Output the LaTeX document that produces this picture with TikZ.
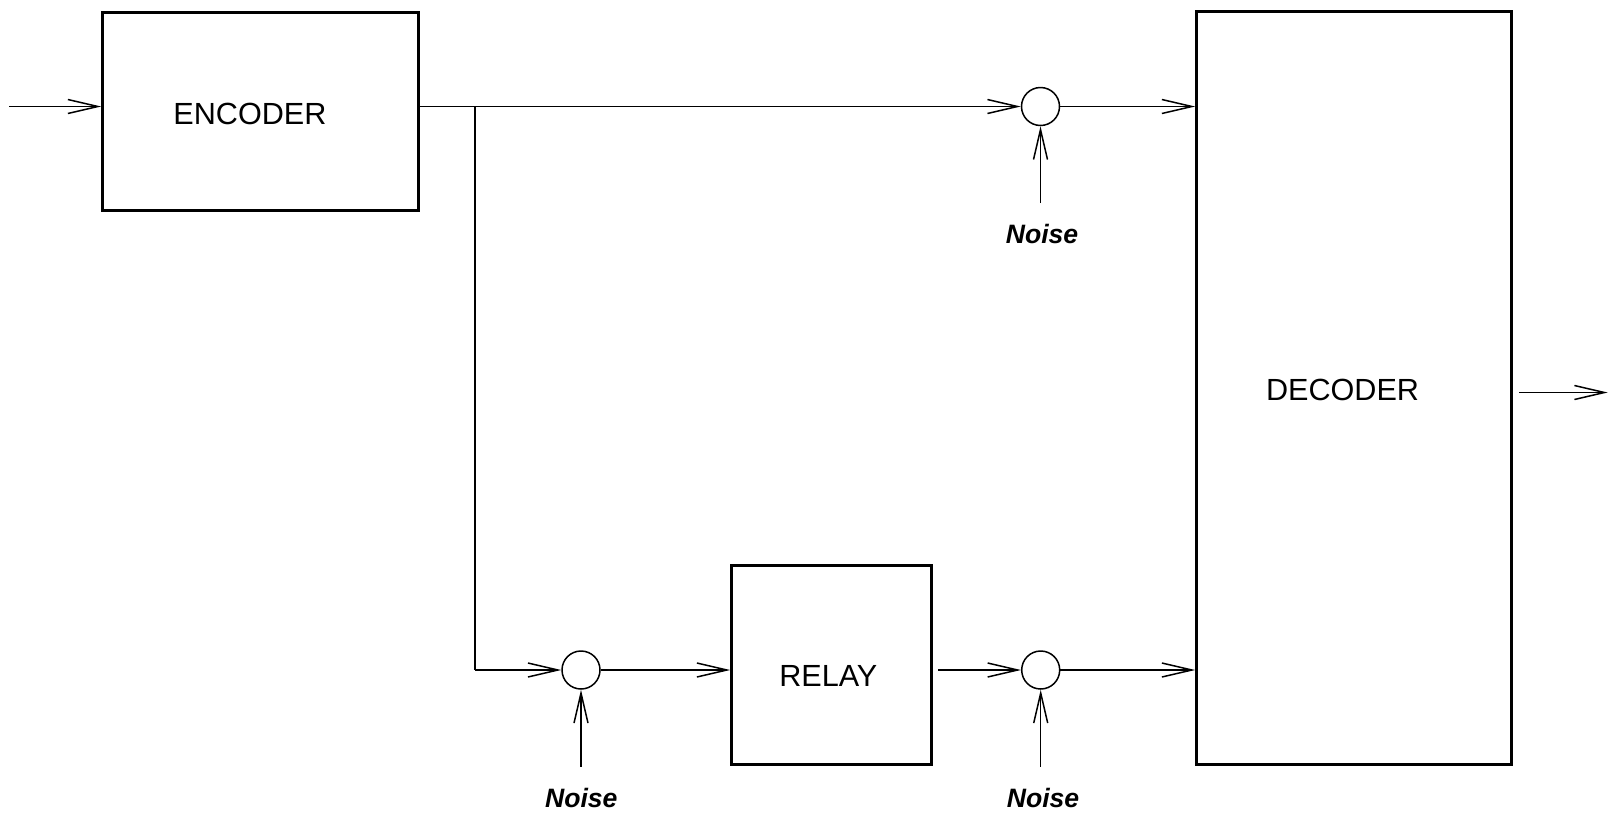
\documentclass[tikz,border=0pt]{standalone}
\usepackage{fontspec}
\newfontfamily\labfont{Liberation Sans}
\usetikzlibrary{arrows.meta}
\begin{document}
\begin{tikzpicture}[x=1pt,y=-1pt,
  blockbox/.style={draw,line width=3pt,inner sep=0pt,rectangle},
  sumnode/.style={draw,circle,line width=1.5pt,minimum size=38pt,inner sep=0pt},
  conn/.style={line width=1.5pt,-{Straight Barb[length=30pt,width=14pt,line width=1.5pt]}},
  plain/.style={line width=1.5pt},
  boxtext/.style={font=\labfont\fontsize{30.6pt}{34pt}\selectfont,inner sep=0pt,anchor=base},
  noisetext/.style={font=\labfont\bfseries\itshape\fontsize{26.6pt}{30pt}\selectfont,inner sep=0pt,anchor=base}]
\useasboundingbox (0,0) rectangle (1608,815);
% blocks
\node[blockbox,minimum width=316pt,minimum height=198pt] (enc) at (260.7,111) {};
\node[blockbox,minimum width=315pt,minimum height=752.5pt] (dec) at (1354.2,387.75) {};
\node[blockbox,minimum width=200pt,minimum height=199.3pt] (rel) at (831.7,665.3) {};
\node[boxtext] (encT) at (250,124) {ENCODER};
\node[boxtext] (decT) at (1342.5,400.7) {DECODER};
\node[boxtext] (relT) at (828.3,686.7) {RELAY};
% summing junctions
\node[sumnode] (s1) at (1040.5,106.5) {};
\node[sumnode] (s2) at (581,670) {};
\node[sumnode] (s3) at (1040.7,670) {};
% noise labels and sources
\node[noisetext] (n1) at (1042,243) {Noise};
\node[noisetext] (n2) at (581.3,807) {Noise};
\node[noisetext] (n3) at (1043,807) {Noise};
\coordinate (n1s) at (1040.5,203);
\coordinate (n2s) at (581,766.5);
\coordinate (n3s) at (1040.7,766.5);
% free ends
\coordinate (inp) at (9.3,106.5);
\coordinate (br) at (475,106.5);
\coordinate (brb) at (475,670);
\coordinate (outE) at (1607.7,392.5);
% connectors
\draw[conn] (inp) -- (inp -| enc.west);
\draw[plain] (enc.east |- br) -- (br);
\draw[conn] (br) -- (s1);
\draw[plain] (br) -- (brb);
\draw[conn] (brb) -- (s2);
\draw[conn] (s2) -- (s2 -| rel.west);
\draw[conn] ([xshift=5pt]rel.east |- s3) -- (s3);
\draw[conn] (s3) -- (s3 -| dec.west);
\draw[conn] (s1) -- (s1 -| dec.west);
\draw[conn] ([xshift=6pt]dec.east |- outE) -- (outE);
\draw[conn] (n1s) -- (s1);
\draw[conn] (n2s) -- (s2);
\draw[conn] (n3s) -- (s3);
\end{tikzpicture}
\end{document}
